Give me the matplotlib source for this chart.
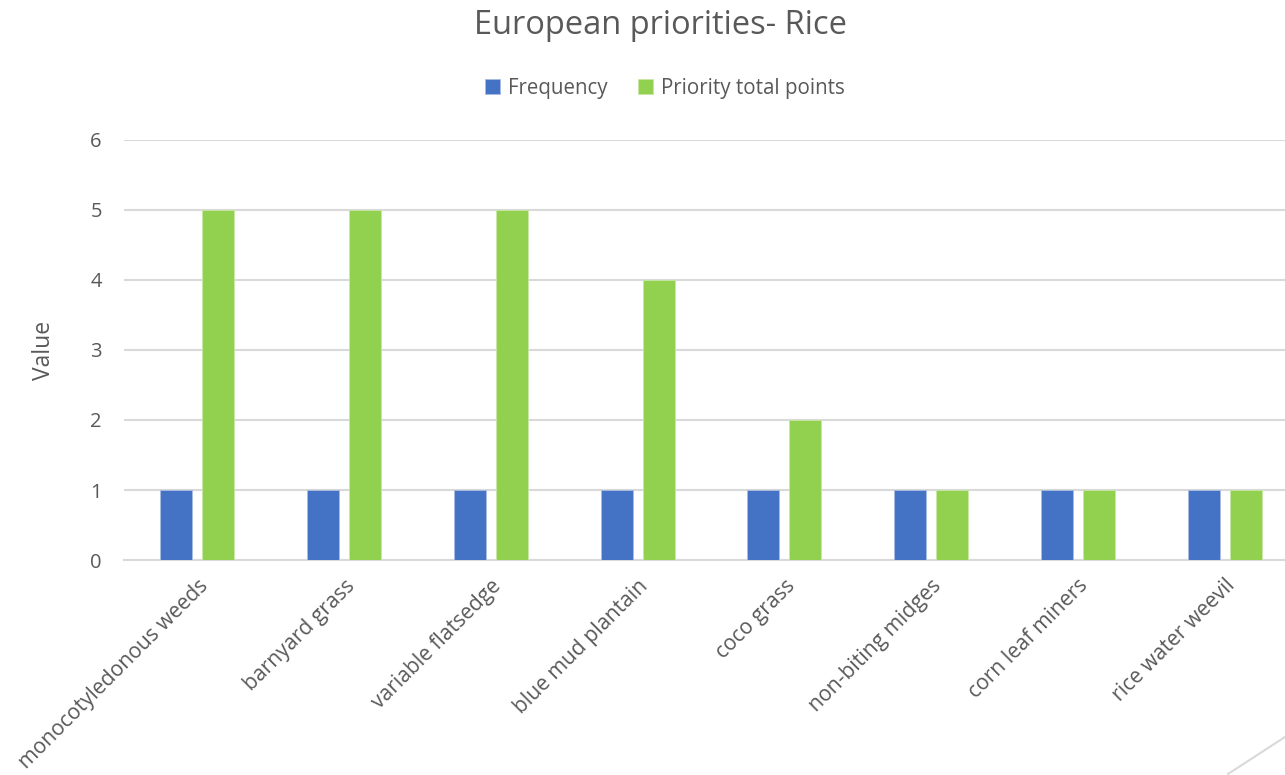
import matplotlib
matplotlib.use("Agg")
import matplotlib.pyplot as plt
import numpy as np
from matplotlib.lines import Line2D

categories = [
    "monocotyledonous weeds",
    "barnyard grass",
    "variable flatsedge",
    "blue mud plantain",
    "coco grass",
    "non-biting midges",
    "corn leaf miners",
    "rice water weevil",
]
frequency = [1, 1, 1, 1, 1, 1, 1, 1]
priority_points = [5, 5, 5, 4, 2, 1, 1, 1]
y_ticks = [0, 1, 2, 3, 4, 5, 6]

BLUE = "#4472C4"
GREEN = "#92D050"
TEXT = "#595959"
GRID = "#D9D9D9"

plt.rcParams["font.family"] = ["Open Sans", "DejaVu Sans"]

fig = plt.figure(figsize=(12.85, 7.75), dpi=100)
# plot area runs a little past the right edge of the canvas
ax = fig.add_axes([0.0965, 0.2774, 0.9136, 0.542])

x = np.arange(len(categories))
w = 0.218
off = 0.143
ax.bar(x - off, frequency, w, color=BLUE, edgecolor="#A9BCE4", linewidth=0.6,
       label="Frequency", zorder=3)
ax.bar(x + off, priority_points, w, color=GREEN, edgecolor="#C8E8A7", linewidth=0.6,
       label="Priority total points", zorder=3)

ax.set_xlim(-0.5, len(categories) - 0.5)
ax.set_ylim(0, 6)
ax.set_yticks(y_ticks)
ax.yaxis.grid(True, color=GRID, linewidth=1.5, zorder=0)
ax.set_axisbelow(True)
for s in ["top", "right", "left"]:
    ax.spines[s].set_visible(False)
ax.spines["bottom"].set_color(GRID)
ax.spines["bottom"].set_linewidth(1.5)
ax.tick_params(axis="y", length=0, colors=TEXT, labelsize=14.5, pad=16)

ax.set_xticks(x)
ax.set_xticklabels(categories, rotation=45, ha="right", rotation_mode="anchor")
ax.tick_params(axis="x", length=0, colors=TEXT, labelsize=15.2, pad=11)

ax.set_ylabel("Value", color=TEXT, fontsize=16.5)
ax.yaxis.set_label_coords(-0.0576, 0.5)

fig.text(0.514, 0.967, "European priorities- Rice", ha="center", va="center",
         fontsize=23.5, color=TEXT)
fig.legend(loc="center", bbox_to_anchor=(0.5175, 0.886), ncol=2, frameon=False,
           fontsize=14.8, labelcolor=TEXT, handlelength=0.7, handleheight=0.7,
           handletextpad=0.4, columnspacing=1.5)

# thin grey stroke in the lower right corner
fig.add_artist(Line2D([1228 / 1285, 1.0], [1 / 775, 38 / 775],
                      transform=fig.transFigure, color=GRID, linewidth=1.5))

fig.savefig("out.png", dpi=100)
